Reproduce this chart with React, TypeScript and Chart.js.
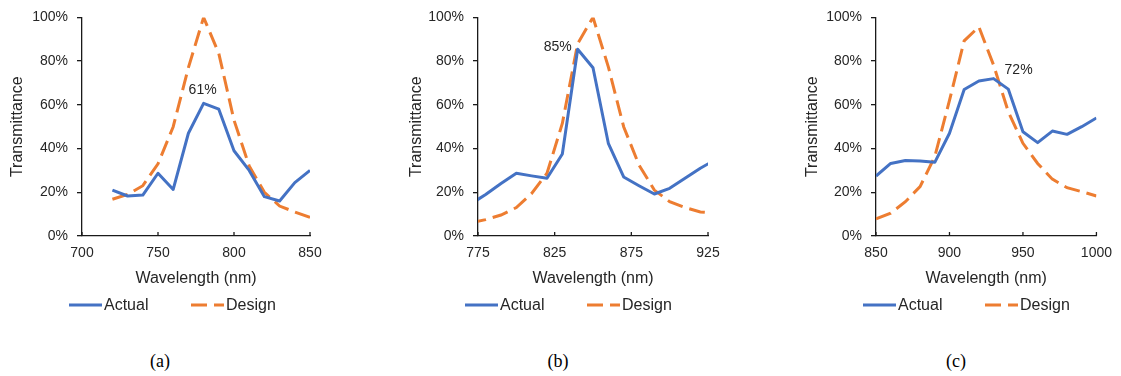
import React, { useEffect, useRef } from "react";
import { Chart, registerables } from "chart.js";

Chart.register(...registerables);

// ---------- data ----------
const wavelengthA = [720, 730, 740, 750, 760, 770, 780, 790, 800, 810, 820, 830, 840, 850];
const actualA = [21, 18.3, 18.7, 28.7, 21.3, 47, 60.7, 58, 39, 30, 18, 16, 24.4, 30];
const designA = [16.8, 19, 23, 33, 50, 77, 100, 83.5, 53, 32, 20, 13.7, 11, 8.5];
const ticksA = [700, 750, 800, 850];

const wavelengthB = [770, 780, 790, 800, 810, 820, 830, 840, 850, 860, 870, 880, 890, 900, 910, 920, 930];
const actualB = [14.5, 19, 24, 28.7, 27.5, 26.4, 37.5, 85.4, 77, 42.4, 27, 23, 19.2, 21.8, 26.4, 31, 35];
const designB = [6, 7.5, 9.6, 13, 19.5, 28.7, 51.5, 88, 100, 77.4, 50, 32.5, 21, 15.7, 13, 11, 10.5];
const ticksB = [775, 825, 875, 925];

const wavelengthC = [850, 860, 870, 880, 890, 900, 910, 920, 930, 940, 950, 960, 970, 980, 990, 1000];
const actualC = [27.4, 33.2, 34.5, 34.3, 33.7, 47, 67, 70.9, 72, 67.2, 47.7, 42.7, 48, 46.5, 50, 54];
const designC = [7.8, 10.4, 15.7, 22.6, 36.3, 62, 89.3, 95.7, 78.2, 56.9, 42.4, 33.2, 26, 22.1, 20.3, 18.3];
const ticksC = [850, 900, 950, 1000];

const yTicks = [0, 20, 40, 60, 80, 100];
const seriesNames = ["Actual", "Design"];
const peakLabels = ["61%", "85%", "72%"];
const captions = ["(a)", "(b)", "(c)"];

const BLUE = "#4472C4";
const ORANGE = "#ED7D31";
const TEXT = "#262626";
const AXIS = "#1a1a1a";
const SANS = "'Liberation Sans', Arial, sans-serif";

type PanelProps = {
  xs: number[];
  actual: number[];
  design: number[];
  xTicks: number[];
  peakText: string;
  peakPos: "above" | "left" | "right";
  left: number;
  width: number;
  padLeft: number;
  padRight: number;
  yWidth: number;
};

const peakPlugin = {
  id: "peakLabel",
  afterDatasetsDraw(chart: any, _args: any, opts: any) {
    const ds = chart.data.datasets[0].data as { x: number; y: number }[];
    let idx = 0;
    ds.forEach((p, i) => {
      if (p.y > ds[idx].y) idx = i;
    });
    const px = chart.scales.x.getPixelForValue(ds[idx].x);
    const py = chart.scales.y.getPixelForValue(ds[idx].y);
    const ctx = chart.ctx;
    ctx.save();
    ctx.font = `14px ${SANS}`;
    ctx.fillStyle = TEXT;
    ctx.textBaseline = "middle";
    if (opts.pos === "above") {
      ctx.textAlign = "center";
      ctx.fillText(opts.text, px - 1, py - 13);
    } else if (opts.pos === "left") {
      ctx.textAlign = "right";
      ctx.fillText(opts.text, px - 6, py - 2);
    } else {
      ctx.textAlign = "left";
      ctx.fillText(opts.text, px + 11, py - 8);
    }
    ctx.restore();
  },
};

const xTickMarkPlugin = {
  id: "xTickMarks",
  afterDraw(chart: any) {
    const sx = chart.scales.x;
    const ctx = chart.ctx;
    const bottom = chart.chartArea.bottom;
    ctx.save();
    ctx.strokeStyle = AXIS;
    ctx.lineWidth = 1.3;
    sx.ticks.forEach((t: any) => {
      const x = sx.getPixelForValue(t.value);
      ctx.beginPath();
      ctx.moveTo(x, bottom);
      ctx.lineTo(x, bottom - 4);
      ctx.stroke();
    });
    ctx.restore();
  },
};

const legendPlugin = {
  id: "customLegend",
  afterDraw(chart: any) {
    const ctx = chart.ctx;
    const { left, bottom } = chart.chartArea;
    const y = bottom + 69;
    ctx.save();
    chart.data.datasets.forEach((ds: any, i: number) => {
      const x0 = left - 13 + i * 122;
      ctx.beginPath();
      ctx.strokeStyle = ds.borderColor;
      ctx.lineWidth = ds.borderWidth;
      ctx.setLineDash(ds.borderDash || []);
      ctx.lineCap = "butt";
      ctx.moveTo(x0, y);
      ctx.lineTo(x0 + 33, y);
      ctx.stroke();
      ctx.setLineDash([]);
      ctx.font = `16px ${SANS}`;
      ctx.fillStyle = TEXT;
      ctx.textAlign = "left";
      ctx.textBaseline = "middle";
      ctx.fillText(ds.label, x0 + 35, y + 1);
    });
    ctx.restore();
  },
};

function Panel(p: PanelProps) {
  const ref = useRef<HTMLCanvasElement>(null);
  useEffect(() => {
    if (!ref.current) return;
    const chart = new Chart(ref.current, {
      type: "line",
      data: {
        datasets: [
          {
            label: seriesNames[0],
            data: p.xs.map((x, i) => ({ x, y: p.actual[i] })),
            borderColor: BLUE,
            backgroundColor: BLUE,
            borderWidth: 3,
            pointRadius: 0,
            tension: 0,
            borderJoinStyle: "round",
          },
          {
            label: seriesNames[1],
            data: p.xs.map((x, i) => ({ x, y: p.design[i] })),
            borderColor: ORANGE,
            backgroundColor: ORANGE,
            borderWidth: 3,
            borderDash: [16, 7],
            pointRadius: 0,
            tension: 0,
          },
        ],
      },
      options: {
        responsive: false,
        animation: false,
        devicePixelRatio: 1,
        layout: { padding: { left: p.padLeft, right: p.padRight, top: 17, bottom: 40 } },
        plugins: {
          legend: { display: false },
          tooltip: { enabled: false },
          peakLabel: { text: p.peakText, pos: p.peakPos },
        } as any,
        scales: {
          x: {
            type: "linear",
            min: p.xTicks[0],
            max: p.xTicks[p.xTicks.length - 1],
            afterBuildTicks: (s: any) => {
              s.ticks = p.xTicks.map((v) => ({ value: v }));
            },
            afterFit: (s: any) => {
              s.height = 54;
            },
            grid: { display: false, drawTicks: false },
            border: { display: true, color: AXIS, width: 1.3 },
            ticks: {
              autoSkip: false,
              maxRotation: 0,
              padding: 9,
              color: TEXT,
              font: { family: SANS, size: 14 },
              callback: (v: any) => String(v),
            },
            title: {
              display: true,
              text: "Wavelength (nm)",
              color: TEXT,
              font: { family: SANS, size: 16 },
              padding: { top: 4, bottom: 2 },
            },
          },
          y: {
            min: 0,
            max: 100,
            afterBuildTicks: (s: any) => {
              s.ticks = yTicks.map((v) => ({ value: v }));
            },
            afterFit: (s: any) => {
              s.width = p.yWidth;
            },
            grid: {
              display: true,
              drawOnChartArea: false,
              drawTicks: true,
              tickLength: 5,
              color: AXIS,
              lineWidth: 1.3,
            },
            border: { display: true, color: AXIS, width: 1.3 },
            ticks: {
              padding: 9,
              color: TEXT,
              font: { family: SANS, size: 14 },
              callback: (v: any) => `${v}%`,
            },
            title: {
              display: true,
              text: "Transmittance",
              color: TEXT,
              font: { family: SANS, size: 16 },
              padding: { top: 4, bottom: 4 },
            },
          },
        },
      } as any,
      plugins: [peakPlugin, xTickMarkPlugin, legendPlugin],
    });
    return () => chart.destroy();
  }, []);
  return (
    <canvas
      ref={ref}
      width={p.width}
      height={330}
      style={{ position: "absolute", left: p.left, top: 0, width: p.width, height: 330 }}
    />
  );
}

export default function App() {
  const capStyle = (cx: number): React.CSSProperties => ({
    position: "absolute",
    left: cx - 30,
    width: 60,
    top: 350,
    textAlign: "center",
    fontFamily: "'Liberation Serif', 'Times New Roman', serif",
    fontSize: 18,
    color: "#000",
    lineHeight: "22px",
  });
  return (
    <div
      style={{
        position: "fixed",
        left: 0,
        top: 0,
        width: 1121,
        height: 376,
        background: "#fff",
        overflow: "hidden",
      }}
    >
      <Panel xs={wavelengthA} actual={actualA} design={designA} xTicks={ticksA} peakText={peakLabels[0]} peakPos="above" left={0} width={370} padLeft={4} padRight={60} yWidth={78} />
      <Panel xs={wavelengthB} actual={actualB} design={designB} xTicks={ticksB} peakText={peakLabels[1]} peakPos="left" left={398} width={370} padLeft={5} padRight={60} yWidth={75} />
      <Panel xs={wavelengthC} actual={actualC} design={designC} xTicks={ticksC} peakText={peakLabels[2]} peakPos="right" left={795} width={326} padLeft={4} padRight={20} yWidth={77} />
      <div style={capStyle(160)}>{captions[0]}</div>
      <div style={capStyle(558)}>{captions[1]}</div>
      <div style={capStyle(956)}>{captions[2]}</div>
    </div>
  );
}
